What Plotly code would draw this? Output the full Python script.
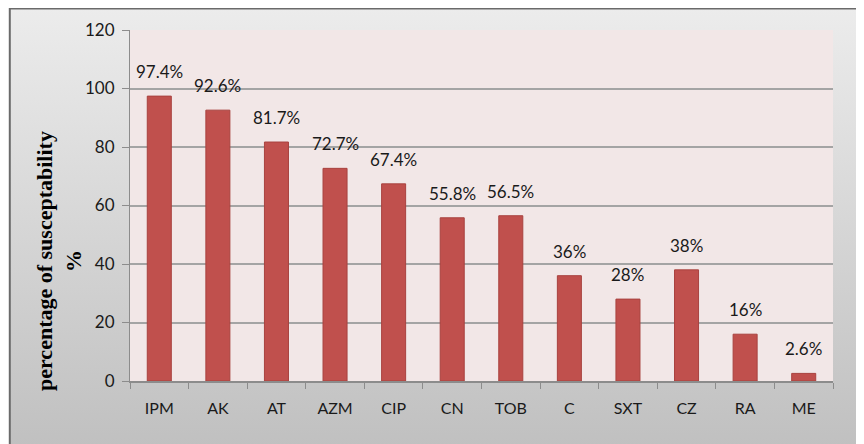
import base64
import plotly.graph_objects as go

drugs = ["IPM", "AK", "AT", "AZM", "CIP", "CN", "TOB", "C", "SXT", "CZ", "RA", "ME"]
susceptibility = [97.4, 92.6, 81.7, 72.7, 67.4, 55.8, 56.5, 36, 28, 38, 16, 2.6]
bar_labels = ["97.4%", "92.6%", "81.7%", "72.7%", "67.4%", "55.8%", "56.5%",
              "36%", "28%", "38%", "16%", "2.6%"]
y_ticks = [0, 20, 40, 60, 80, 100, 120]

# gray gradient behind the whole chart (like the office chart area)
grad_svg = (
    '<svg xmlns="http://www.w3.org/2000/svg" width="100" height="100" preserveAspectRatio="none">'
    '<defs><linearGradient id="g" x1="0" y1="0" x2="0" y2="1">'
    '<stop offset="0" stop-color="#ECECEC"/><stop offset="1" stop-color="#C0C0C0"/>'
    '</linearGradient></defs><rect width="100" height="100" fill="url(#g)"/></svg>'
)
grad_uri = "data:image/svg+xml;base64," + base64.b64encode(grad_svg.encode()).decode()

fig = go.Figure()
fig.add_bar(
    x=drugs, y=susceptibility,
    marker=dict(color="#C0504D", line=dict(color="#A8423F", width=1)),
)

# value labels sit a bit higher above the bars than plotly's outside text
labels = [dict(x=d, y=v, text=t, xref="x", yref="y", showarrow=False,
               yanchor="bottom", yshift=12, font=dict(family="Lato", size=17, color="#1A1A1A"))
          for d, v, t in zip(drugs, susceptibility, bar_labels)]

# the page body adds an 8px offset, so the figure is sized to fill the rest of the window
fig.update_layout(
    width=856, height=436,
    margin=dict(l=122, r=31, t=22, b=63),
    paper_bgcolor="#FFFFFF",
    plot_bgcolor="rgba(0,0,0,0)",
    bargap=0.59,
    showlegend=False,
    font=dict(family="Lato", size=15, color="#1A1A1A"),
    images=[dict(source=grad_uri, xref="paper", yref="paper",
                 x=-0.172, y=1.063, sizex=1.35, sizey=1.25,
                 sizing="stretch", layer="below", xanchor="left", yanchor="top")],
    shapes=[
        # pink plot area
        dict(type="rect", xref="paper", yref="paper", x0=0, x1=1, y0=0, y1=1,
             fillcolor="#F2E7E7", line=dict(width=0), layer="below"),
        # frame around chart
        dict(type="rect", xref="paper", yref="paper", x0=-0.171, x1=1.2, y0=-0.3, y1=1.061,
             fillcolor="rgba(0,0,0,0)", line=dict(color="#6A6A6A", width=2), layer="below"),
    ],
    annotations=labels + [dict(
        text="<b>percentage of susceptability<br>%</b>", xref="paper", yref="paper",
        x=(59 - 130) / 703, y=(381 - 261) / 351, textangle=-90, showarrow=False,
        font=dict(family="Liberation Serif", size=22, color="#000000"),
        xanchor="center", yanchor="middle",
    )],
)

fig.update_xaxes(
    showgrid=False, showline=True, linecolor="#8C8C8C", linewidth=1.5,
    ticks="outside", tickson="boundaries", ticklen=6, tickcolor="#8C8C8C",
    tickfont=dict(size=16), ticklabelstandoff=12,
)
fig.update_yaxes(
    range=[0, 120], tickvals=y_ticks, showgrid=True, gridcolor="#A4A4A4", gridwidth=1.5,
    showline=True, linecolor="#8C8C8C", linewidth=1, zeroline=False,
    ticks="outside", ticklen=7, tickcolor="#8C8C8C", tickfont=dict(size=17),
    ticklabelstandoff=4,
)

fig.write_html("out.html")
